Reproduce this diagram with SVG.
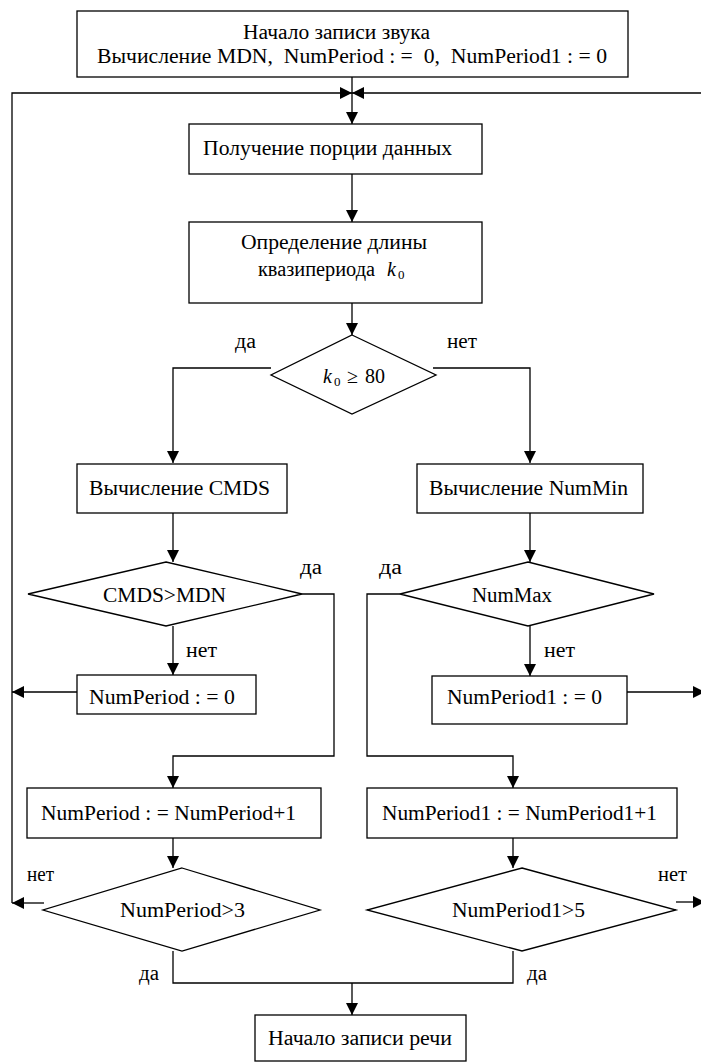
<svg xmlns="http://www.w3.org/2000/svg" width="701" height="1062" viewBox="0 0 701 1062">
<style>
.n{fill:#fff;stroke:#000;stroke-width:1.3}
.c{fill:none;stroke:#000;stroke-width:1.3}
.a{fill:none;stroke:#000;stroke-width:1.3;marker-end:url(#ah)}
text{font-family:'Liberation Serif','DejaVu Serif','Noto Serif',serif;font-size:20px;fill:#000}
.s{font-size:13px}
.i{font-style:italic}
</style>
<defs>
<marker id="ah" viewBox="0 0 12 12" refX="12" refY="6" markerWidth="12" markerHeight="12" markerUnits="userSpaceOnUse" orient="auto">
<path d="M0,0 L12,6 L0,12 z" fill="#000"/>
</marker>
</defs>
<rect width="701" height="1062" fill="#fff"/>
<g id="connectors">
<path class="a" d="M352,77 V124"/>
<path class="a" d="M12,903 V93 H352"/>
<path class="a" d="M701,93 H352"/>
<path class="a" d="M352,174 V222"/>
<path class="a" d="M352,303 V335"/>
<path class="a" d="M271,368 H173 V463"/>
<path class="a" d="M433,368 H530 V463"/>
<path class="a" d="M173,513 V562"/>
<path class="a" d="M530,513 V562"/>
<path class="a" d="M302,594 H334 V756 H173 V788"/>
<path class="a" d="M400,594 H367 V756 H513 V788"/>
<path class="a" d="M173,626 V675"/>
<path class="a" d="M530,626 V676"/>
<path class="a" d="M77,692 H12"/>
<path class="a" d="M627,692 H705"/>
<path class="a" d="M173,838 V868"/>
<path class="a" d="M513,838 V868"/>
<path class="a" d="M44,903 H12"/>
<path class="a" d="M676,902 H705"/>
<path class="c" d="M173,951 V983 H513 V951"/>
<path class="a" d="M352,983 V1015"/>
</g>
<g id="start">
<rect class="n" x="77" y="11" width="551" height="66"/>
<text x="243" y="39" textLength="187" lengthAdjust="spacingAndGlyphs">Начало записи звука</text>
<text x="97" y="63" textLength="510" lengthAdjust="spacingAndGlyphs" xml:space="preserve">Вычисление MDN,  NumPeriod : =  0,  NumPeriod1 : = 0</text>
</g>
<g id="get-data">
<rect class="n" x="189" y="124" width="293" height="50"/>
<text x="203" y="155" textLength="249" lengthAdjust="spacingAndGlyphs">Получение порции данных</text>
</g>
<g id="period">
<rect class="n" x="189" y="222" width="293" height="81"/>
<text x="241" y="249" textLength="186" lengthAdjust="spacingAndGlyphs">Определение длины</text>
<text x="258" y="276" textLength="117" lengthAdjust="spacingAndGlyphs">квазипериода</text>
<text class="i" x="387" y="276">k</text>
<text class="s" x="398" y="279">0</text>
</g>
<g id="cond-k0">
<polygon class="n" points="352,335 436,375 352,414 271,375"/>
<text class="i" x="323" y="383">k</text>
<text class="s" x="334" y="386">0</text>
<text x="347" y="383">≥</text>
<text x="365" y="383" textLength="20" lengthAdjust="spacingAndGlyphs">80</text>
<text x="235" y="348" textLength="21" lengthAdjust="spacingAndGlyphs">да</text>
<text x="447" y="348" textLength="30" lengthAdjust="spacingAndGlyphs">нет</text>
</g>
<g id="cmds">
<rect class="n" x="77" y="464" width="210" height="49"/>
<text x="89" y="495" textLength="181" lengthAdjust="spacingAndGlyphs">Вычисление CMDS</text>
</g>
<g id="nummin">
<rect class="n" x="417" y="464" width="226" height="49"/>
<text x="429" y="495" textLength="199" lengthAdjust="spacingAndGlyphs">Вычисление NumMin</text>
</g>
<g id="cond-cmds">
<polygon class="n" points="166,562 302,594 166,626 28,594"/>
<text x="103" y="602" textLength="123" lengthAdjust="spacingAndGlyphs">CMDS&gt;MDN</text>
<text x="300" y="574" textLength="22" lengthAdjust="spacingAndGlyphs">да</text>
<text x="186" y="657" textLength="31" lengthAdjust="spacingAndGlyphs">нет</text>
</g>
<g id="cond-nummax">
<polygon class="n" points="528,562 654,594 528,626 400,594"/>
<text x="472" y="602" textLength="80" lengthAdjust="spacingAndGlyphs">NumMax</text>
<text x="379" y="574" textLength="23" lengthAdjust="spacingAndGlyphs">да</text>
<text x="544" y="657" textLength="31" lengthAdjust="spacingAndGlyphs">нет</text>
</g>
<g id="reset1">
<rect class="n" x="77" y="675" width="179" height="39"/>
<text x="89" y="704" textLength="146" lengthAdjust="spacingAndGlyphs">NumPeriod : = 0</text>
</g>
<g id="reset2">
<rect class="n" x="432" y="676" width="195" height="48"/>
<text x="447" y="704" textLength="155" lengthAdjust="spacingAndGlyphs">NumPeriod1 : = 0</text>
</g>
<g id="inc1">
<rect class="n" x="27" y="788" width="294" height="50"/>
<text x="41" y="820" textLength="255" lengthAdjust="spacingAndGlyphs">NumPeriod : = NumPeriod+1</text>
</g>
<g id="inc2">
<rect class="n" x="367" y="788" width="310" height="50"/>
<text x="382" y="820" textLength="275" lengthAdjust="spacingAndGlyphs">NumPeriod1 : = NumPeriod1+1</text>
</g>
<g id="cond-3">
<polygon class="n" points="182,868 320,910 182,951 43,910"/>
<text x="120" y="917" textLength="125" lengthAdjust="spacingAndGlyphs">NumPeriod&gt;3</text>
<text x="27" y="881" textLength="27" lengthAdjust="spacingAndGlyphs">нет</text>
<text x="139" y="980" textLength="20" lengthAdjust="spacingAndGlyphs">да</text>
</g>
<g id="cond-5">
<polygon class="n" points="522,868 676,910 522,951 367,910"/>
<text x="452" y="917" textLength="133" lengthAdjust="spacingAndGlyphs">NumPeriod1&gt;5</text>
<text x="658" y="881" textLength="29" lengthAdjust="spacingAndGlyphs">нет</text>
<text x="527" y="980" textLength="20" lengthAdjust="spacingAndGlyphs">да</text>
</g>
<g id="speech">
<rect class="n" x="255" y="1015" width="211" height="46"/>
<text x="268" y="1045" textLength="184" lengthAdjust="spacingAndGlyphs">Начало записи речи</text>
</g>
</svg>
